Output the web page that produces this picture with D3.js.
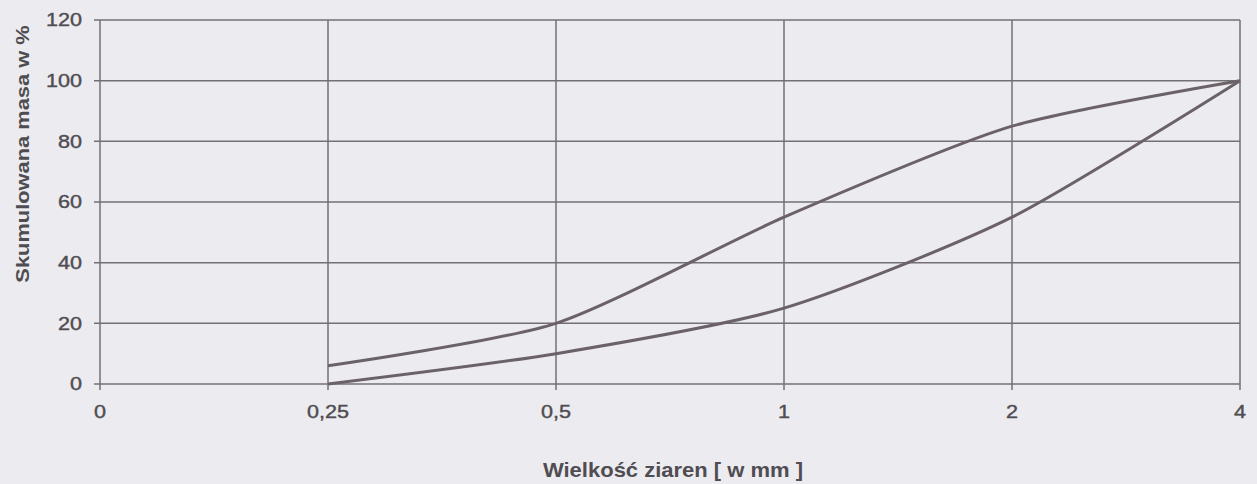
<!DOCTYPE html>
<html>
<head>
<meta charset="utf-8">
<script src="https://cdn.jsdelivr.net/npm/d3@7"></script>
<style>
  body { margin: 0; background: #ecebef; }
  svg { display: block; }
</style>
</head>
<body>
<div class="chart"></div>
<script>
var sizes = ["0", "0,25", "0,5", "1", "2", "4"];
var yTicks = [0, 20, 40, 60, 80, 100, 120];
// upper and lower grading limits (x = 0,25 ... 4)
var upperLimit = [6, 20, 55, 85, 100];
var lowerLimit = [0, 10, 25, 55, 100];
var limitSizes = ["0,25", "0,5", "1", "2", "4"];

var width = 1257, height = 484;
var plotLeft = 100, plotRight = 1240, plotTop = 20, plotBottom = 384;

var svg = d3.select('.chart')
  .append('svg')
  .attr('width', width)
  .attr('height', height);

var x = d3.scalePoint()
  .domain(sizes)
  .range([plotLeft, plotRight]);

var y = d3.scaleLinear()
  .domain([0, 120])
  .range([plotBottom, plotTop]);

var gridColor = '#727075';
var textColor = '#4f4d52';
var font = 'Liberation Sans, Arial, sans-serif';

// horizontal grid
svg.selectAll('.hgrid')
  .data(yTicks)
  .enter()
  .append('line')
  .attr('x1', plotLeft - 6)
  .attr('x2', plotRight)
  .attr('y1', function (d) { return y(d); })
  .attr('y2', function (d) { return y(d); })
  .attr('stroke', gridColor)
  .attr('stroke-width', 1.5);

// vertical grid
svg.selectAll('.vgrid')
  .data(sizes)
  .enter()
  .append('line')
  .attr('x1', function (d) { return x(d); })
  .attr('x2', function (d) { return x(d); })
  .attr('y1', plotTop)
  .attr('y2', plotBottom + 6)
  .attr('stroke', gridColor)
  .attr('stroke-width', 1.5);

// y tick labels
svg.selectAll('.ylab')
  .data(yTicks)
  .enter()
  .append('text')
  .text(function (d) { return d; })
  .attr('transform', function (d) { return 'translate(82,' + y(d) + ') scale(1.2,1)'; })
  .attr('dy', '0.36em')
  .attr('text-anchor', 'end')
  .attr('fill', textColor)
  .attr('stroke', textColor)
  .attr('stroke-width', 0.4)
  .attr('font-family', font)
  .attr('font-size', '18px');

// x tick labels
svg.selectAll('.xlab')
  .data(sizes)
  .enter()
  .append('text')
  .text(function (d) { return d; })
  .attr('transform', function (d) { return 'translate(' + x(d) + ',418) scale(1.2,1)'; })
  .attr('text-anchor', 'middle')
  .attr('fill', textColor)
  .attr('stroke', textColor)
  .attr('stroke-width', 0.4)
  .attr('font-family', font)
  .attr('font-size', '18px');

var line = d3.line()
  .x(function (d) { return x(d.size); })
  .y(function (d) { return y(d.value); })
  .curve(d3.curveCardinal.tension(0.3));

[upperLimit, lowerLimit].forEach(function (series) {
  var pts = series.map(function (v, i) { return { size: limitSizes[i], value: v }; });
  svg.append('path')
    .datum(pts)
    .attr('d', line)
    .attr('fill', 'none')
    .attr('stroke', '#6b6267')
    .attr('stroke-width', 3);
});

// axis titles
svg.append('text')
  .text('Wielkość ziaren [ w mm ]')
  .attr('transform', 'translate(' + ((plotLeft + plotRight) / 2 + 3) + ',477) scale(1.1,1)')
  .attr('text-anchor', 'middle')
  .attr('fill', textColor)
  .attr('font-family', font)
  .attr('font-weight', 'bold')
  .attr('font-size', '20px');

svg.append('text')
  .text('Skumulowana masa w %')
  .attr('transform', 'translate(29,154) rotate(-90) scale(1.15,1)')
  .attr('text-anchor', 'middle')
  .attr('fill', textColor)
  .attr('font-family', font)
  .attr('font-weight', 'bold')
  .attr('font-size', '19px');
</script>
</body>
</html>
